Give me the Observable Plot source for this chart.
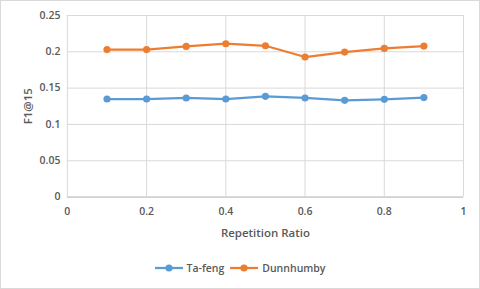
<!DOCTYPE html>
<html><head><meta charset="utf-8">
<script src="https://cdn.jsdelivr.net/npm/d3@7"></script>
<script src="https://cdn.jsdelivr.net/npm/@observablehq/plot@0.6"></script>
<style>
html,body{margin:0;padding:0;background:#fff;}
#wrap{position:relative;width:480px;height:289px;box-sizing:border-box;border:1px solid #d9d9d9;overflow:hidden;font-family:"Open Sans",sans-serif;}
#chart{position:absolute;left:-1px;top:-1px;}
#legend{position:absolute;left:0;top:260px;width:478px;display:flex;justify-content:center;gap:6px;font:600 10.5px "Open Sans",sans-serif;color:#595959;}
.item{display:flex;align-items:center;gap:4px;}
</style></head>
<body><div id="wrap"><div id="chart"></div><div id="legend"></div></div>
<script>
const ratios = [0.1,0.2,0.3,0.4,0.5,0.6,0.7,0.8,0.9];
const tafeng = [0.135,0.135,0.1364,0.135,0.1387,0.1364,0.1332,0.1346,0.137];
const dunnhumby = [0.203,0.203,0.2074,0.2111,0.2083,0.1928,0.1996,0.2047,0.2079];
const seriesNames = ["Ta-feng","Dunnhumby"];
const colors = ["#5b9bd5","#ed7d31"];
const xTicks = [0,0.2,0.4,0.6,0.8,1];
const yTicks = [0,0.05,0.1,0.15,0.2,0.25];

const data = [];
[tafeng,dunnhumby].forEach((vals,i)=>vals.forEach((v,j)=>data.push({series:seriesNames[i],x:ratios[j],y:v})));

const chart = Plot.plot({
  width:480, height:250,
  marginLeft:67, marginRight:16, marginTop:15, marginBottom:53,
  style:{fontFamily:"Open Sans, sans-serif",fontSize:"10.5px",fontWeight:600,color:"#595959",background:"transparent"},
  x:{domain:[0,1]},
  y:{domain:[0,0.25]},
  color:{domain:seriesNames,range:colors},
  marks:[
    Plot.gridX(xTicks,{stroke:"#d9d9d9",strokeOpacity:1}),
    Plot.gridY(yTicks,{stroke:"#d9d9d9",strokeOpacity:1}),
    Plot.ruleY([0],{stroke:"#bfbfbf"}),
    Plot.axisX({ticks:xTicks,tickSize:0,tickPadding:10,tickFormat:d=>String(d),label:null,fontWeight:600}),
    Plot.axisX({ticks:[],label:"Repetition Ratio",labelAnchor:"center",labelArrow:"none",labelOffset:40,fontSize:"11.5px",fontWeight:600}),
    Plot.axisY({ticks:yTicks,tickSize:0,tickPadding:7,tickFormat:d=>String(d),label:null,fontWeight:600}),
    Plot.axisY({ticks:[],label:"F1@15",labelAnchor:"center",labelArrow:"none",labelOffset:44,fontSize:"11.5px",fontWeight:600}),
    Plot.line(data,{x:"x",y:"y",stroke:"series",strokeWidth:2.25}),
    Plot.dot(data,{x:"x",y:"y",fill:"series",r:3.6})
  ]
});
document.getElementById("chart").appendChild(chart);

const leg = document.getElementById("legend");
seriesNames.forEach((n,i)=>{
  const it=document.createElement("div");it.className="item";
  it.innerHTML=`<svg width="28" height="10"><line x1="0" x2="28" y1="5" y2="5" stroke="${colors[i]}" stroke-width="2.25"/><circle cx="14" cy="5" r="3.6" fill="${colors[i]}"/></svg><span>${n}</span>`;
  leg.appendChild(it);
});
</script></body></html>
